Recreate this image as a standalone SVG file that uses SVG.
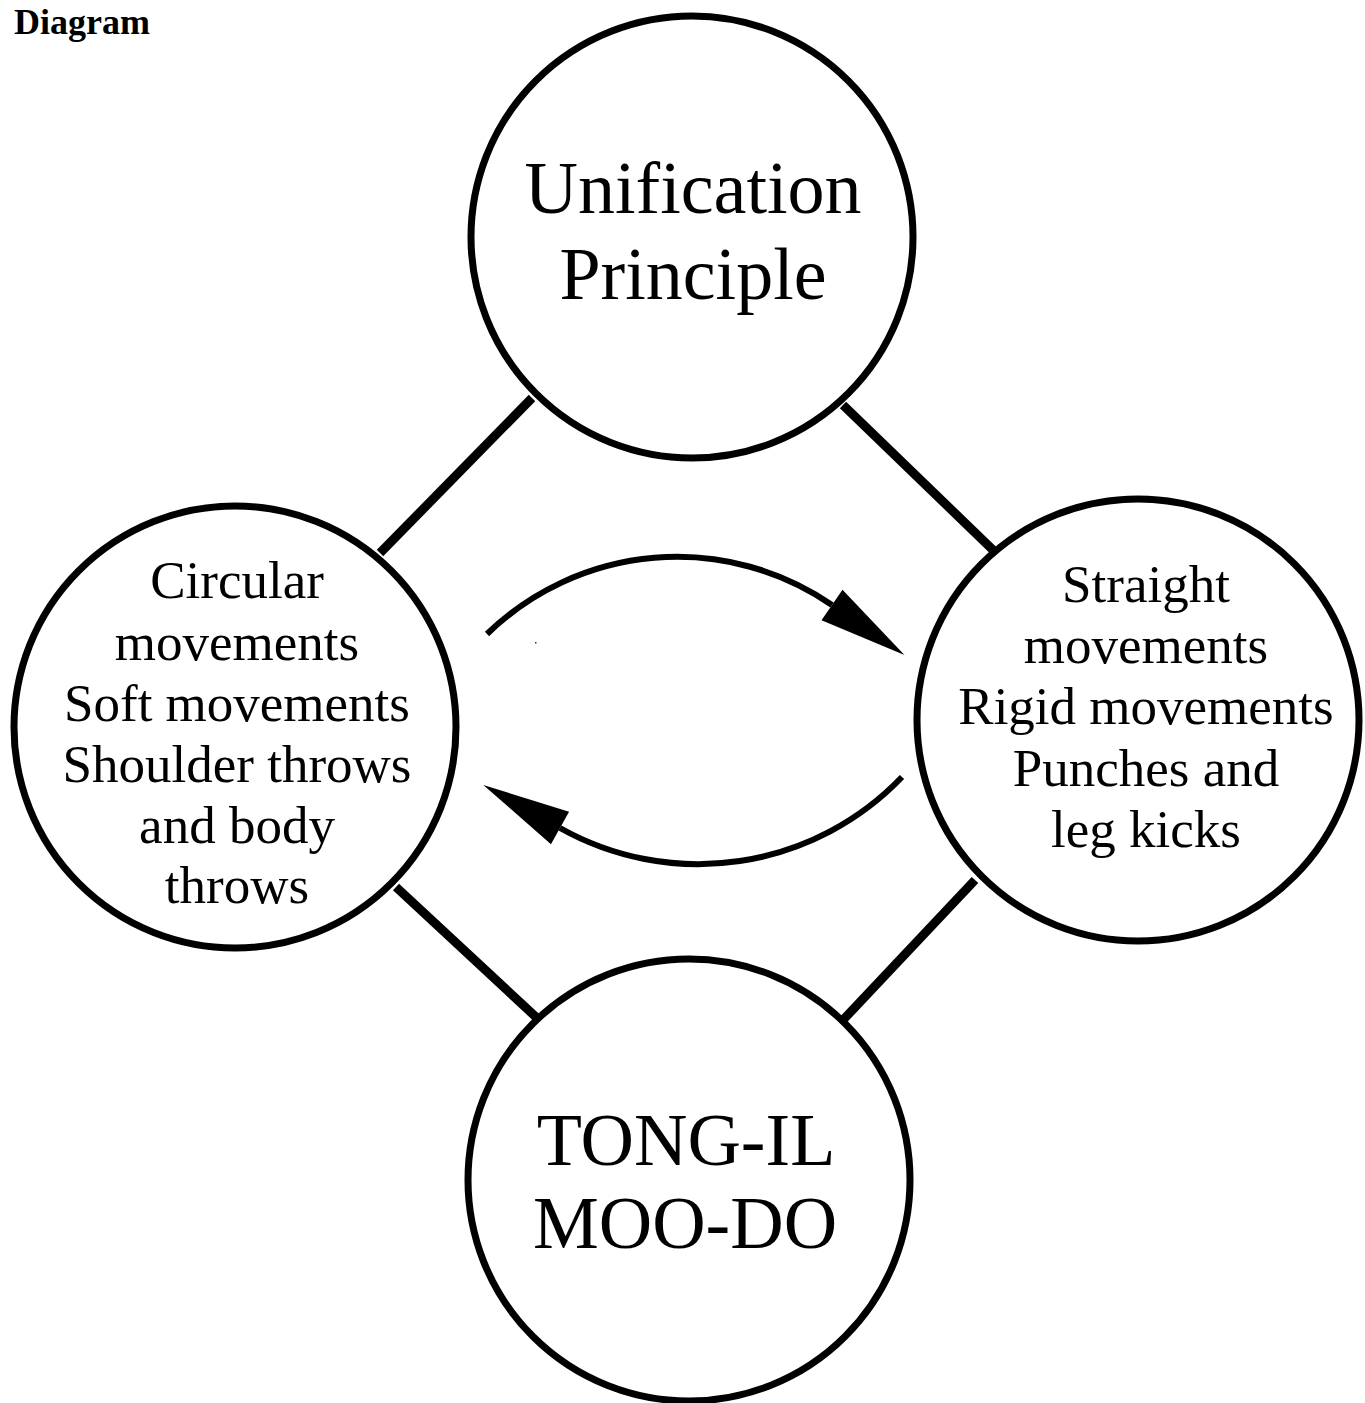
<svg xmlns="http://www.w3.org/2000/svg" width="1365" height="1403" viewBox="0 0 1365 1403">
  <style>
    .node { fill: #ffffff; stroke: #000000; stroke-width: 7; }
    .link { stroke: #000000; stroke-width: 9; fill: none; }
    .arc { stroke: #000000; stroke-width: 6; fill: none; marker-end: url(#arrow); }
    .big { font-family: "Liberation Serif", "Times New Roman", serif; font-size: 74px; fill: #000; text-anchor: middle; }
    .small { font-family: "Liberation Serif", "Times New Roman", serif; font-size: 53px; fill: #000; text-anchor: middle; }
    .title { font-family: "Liberation Serif", "Times New Roman", serif; font-size: 36px; font-weight: bold; fill: #000; }
  </style>
  <defs>
    <marker id="arrow" markerUnits="userSpaceOnUse" markerWidth="92" markerHeight="42" refX="0" refY="20" orient="auto" overflow="visible">
      <path d="M0,1.5 L88,20 L0,38.5 Z" fill="#000000"/>
    </marker>
  </defs>
  <rect x="0" y="0" width="1365" height="1403" fill="#ffffff"/>
  <text class="title" x="14" y="34">Diagram</text>

  <g id="connectors">
    <line class="link" x1="532" y1="398" x2="380" y2="553"/>
    <line class="link" x1="843" y1="405" x2="993" y2="550"/>
    <line class="link" x1="396" y1="887" x2="537" y2="1018"/>
    <line class="link" x1="975" y1="880" x2="843" y2="1020"/>
    <path class="arc" d="M487,634 A273,273 0 0 1 832,605"/>
    <path class="arc" d="M902,777 A282,282 0 0 1 560,828"/>
  </g>

  <g id="node-unification">
    <circle class="node" cx="692" cy="237" r="221"/>
    <text class="big" x="693" y="213">Unification</text>
    <text class="big" x="693" y="299">Principle</text>
  </g>

  <g id="node-circular">
    <circle class="node" cx="235" cy="727" r="221"/>
    <text class="small" x="237" y="598">Circular</text>
    <text class="small" x="237" y="660">movements</text>
    <text class="small" x="237" y="721">Soft movements</text>
    <text class="small" x="237" y="782">Shoulder throws</text>
    <text class="small" x="237" y="843">and body</text>
    <text class="small" x="237" y="903">throws</text>
  </g>

  <g id="node-straight">
    <circle class="node" cx="1138" cy="720" r="221"/>
    <text class="small" x="1146" y="602">Straight</text>
    <text class="small" x="1146" y="663">movements</text>
    <text class="small" x="1146" y="724">Rigid movements</text>
    <text class="small" x="1146" y="786">Punches and</text>
    <text class="small" x="1146" y="847">leg kicks</text>
  </g>

  <g id="node-tongil">
    <circle class="node" cx="689" cy="1180" r="221"/>
    <text class="big" x="686" y="1165">TONG-IL</text>
    <text class="big" x="685" y="1248">MOO-DO</text>
  </g>

  <rect x="535" y="642" width="1.5" height="1.5" fill="#333333"/>
</svg>
